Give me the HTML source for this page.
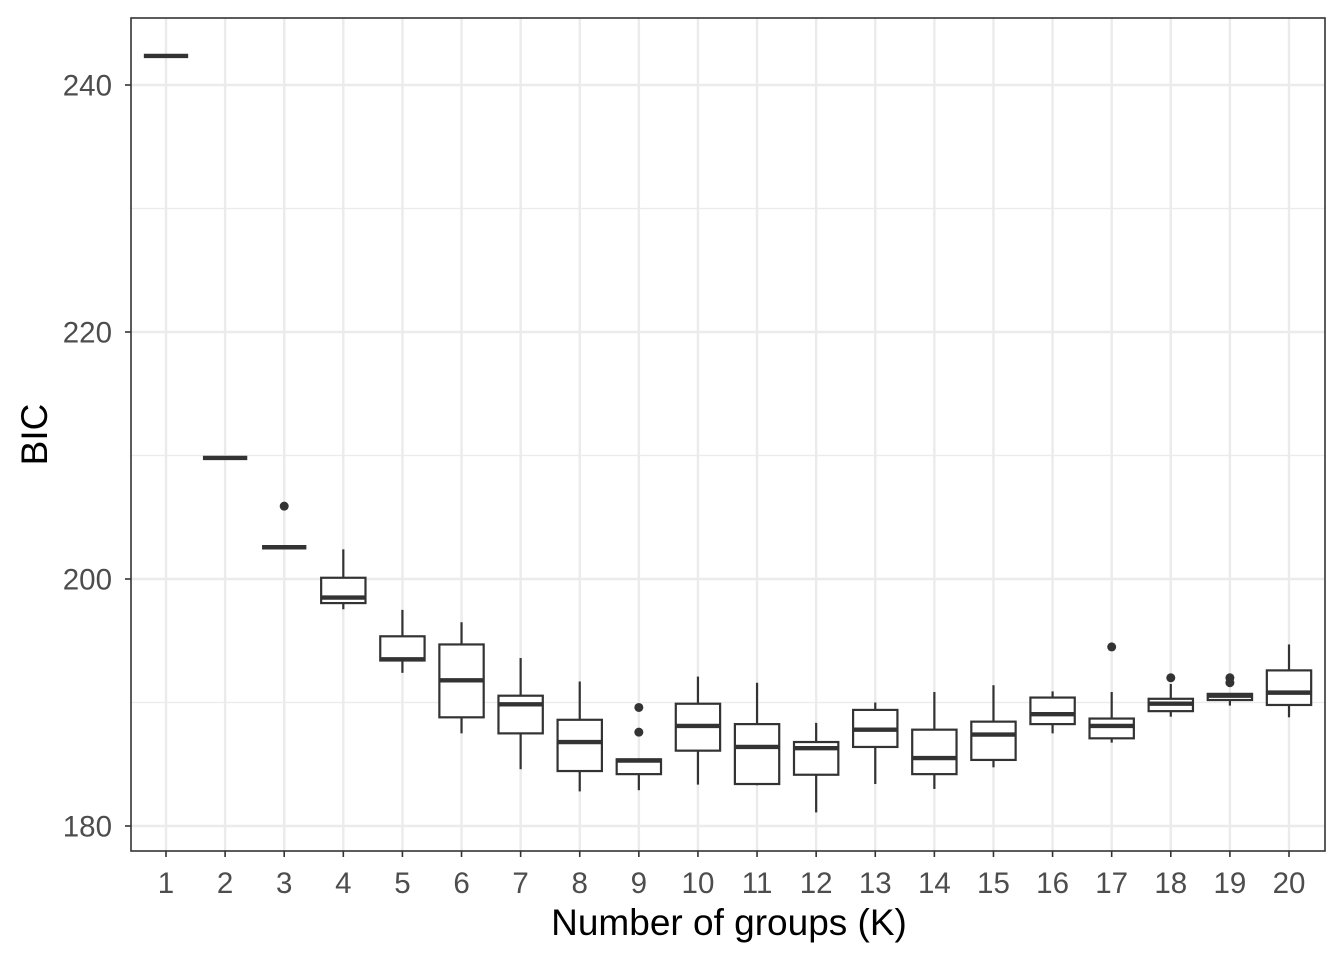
<!DOCTYPE html>
<html><head><meta charset="utf-8"><style>body{margin:0;background:#fff}svg{display:block}</style></head>
<body>
<svg id="chart" width="1344" height="960" xmlns="http://www.w3.org/2000/svg" font-family="Liberation Sans, Arial, sans-serif"></svg>
<script>
const categories=[1,2,3,4,5,6,7,8,9,10,11,12,13,14,15,16,17,18,19,20];
const whiskerLow=[242.35,209.8,202.57,197.55,192.4,187.5,184.6,182.8,182.9,183.35,183.3,181.1,183.4,183.0,184.75,187.5,186.75,188.85,189.75,188.8];
const q1=[242.35,209.8,202.57,198.05,193.4,188.8,187.5,184.45,184.2,186.1,183.4,184.15,186.4,184.2,185.35,188.25,187.1,189.3,190.2,189.8];
const medians=[242.35,209.8,202.57,198.5,193.5,191.8,189.85,186.8,185.3,188.1,186.4,186.3,187.8,185.5,187.4,189.05,188.1,189.9,190.55,190.8];
const q3=[242.35,209.8,202.57,200.1,195.36,194.7,190.55,188.6,185.4,189.9,188.25,186.8,189.4,187.8,188.45,190.4,188.7,190.3,190.7,192.6];
const whiskerHigh=[242.35,209.8,202.57,202.4,197.5,196.5,193.6,191.7,185.4,192.1,191.6,188.35,190.0,190.85,191.4,190.9,190.85,191.5,190.7,194.7];
const outlierK=[3,9,9,17,18,19,19];
const outlierV=[205.9,189.6,187.6,194.5,192.0,192.0,191.6];
const yTicks=[180,200,220,240];
const yMinor=[190,210,230];

const NS="http://www.w3.org/2000/svg";
const svg=document.getElementById('chart');
const L=131,R=1325,T=18,B=851;
const step=(1289-166)/19;
const x=k=>166+(k-1)*step;
const y=v=>85+(240-v)*(826-85)/60;
function mk(tag,attrs,parent){const e=document.createElementNS(NS,tag);for(const a in attrs)e.setAttribute(a,attrs[a]);(parent||svg).appendChild(e);return e;}
const grid=mk('g',{});


yMinor.forEach(v=>{const l=mk('line',{x1:L,x2:R,y1:y(v),y2:y(v),stroke:'#ebebeb','stroke-width':1.2},grid);

});
yTicks.forEach(v=>{const l=mk('line',{x1:L,x2:R,y1:y(v),y2:y(v),stroke:'#ebebeb','stroke-width':2.4},grid);

});
categories.forEach(k=>{const l=mk('line',{x1:x(k),x2:x(k),y1:T,y2:B,stroke:'#ebebeb','stroke-width':2.4},grid);

});
const hw=0.375*step;
categories.forEach((k,i)=>{
 const g=mk('g',{stroke:'#333',fill:'none'});
 
 
 mk('line',{x1:x(k),x2:x(k),y1:y(whiskerHigh[i]),y2:y(q3[i]),'stroke-width':2.2},g);
 mk('line',{x1:x(k),x2:x(k),y1:y(q1[i]),y2:y(whiskerLow[i]),'stroke-width':2.2},g);
 mk('rect',{x:x(k)-hw,y:y(q3[i]),width:2*hw,height:Math.max(0,y(q1[i])-y(q3[i])),'stroke-width':2.2,fill:'#fff'},g);
 mk('line',{x1:x(k)-hw,x2:x(k)+hw,y1:y(medians[i]),y2:y(medians[i]),'stroke-width':4.4},g);
});
outlierK.forEach((k,i)=>{const c=mk('circle',{cx:x(k),cy:y(outlierV[i]),r:4.5,fill:'#333'});

});
const fr=mk('rect',{x:L,y:T,width:R-L,height:B-T,fill:'none',stroke:'#333','stroke-width':1.6});


yTicks.forEach(v=>{mk('line',{x1:L-6,x2:L,y1:y(v),y2:y(v),stroke:'#333','stroke-width':1.6});
const t=mk('text',{x:L-19,y:y(v)+10.5,'text-anchor':'end','font-size':29.5,fill:'#4d4d4d'});t.textContent=v;

});
categories.forEach(k=>{mk('line',{x1:x(k),x2:x(k),y1:B,y2:B+6,stroke:'#333','stroke-width':1.6});
const t=mk('text',{x:x(k),y:B+42,'text-anchor':'middle','font-size':29.5,fill:'#4d4d4d'});t.textContent=k;

});
const xt=mk('text',{x:(L+R)/2+1,y:935,'text-anchor':'middle','font-size':37,fill:'#000'});xt.textContent='Number of groups (K)';


const yt=mk('text',{x:0,y:0,'text-anchor':'middle','font-size':37,fill:'#000',transform:`translate(47,${(T+B)/2}) rotate(-90)`});yt.textContent='BIC';


</script>
</body></html>
